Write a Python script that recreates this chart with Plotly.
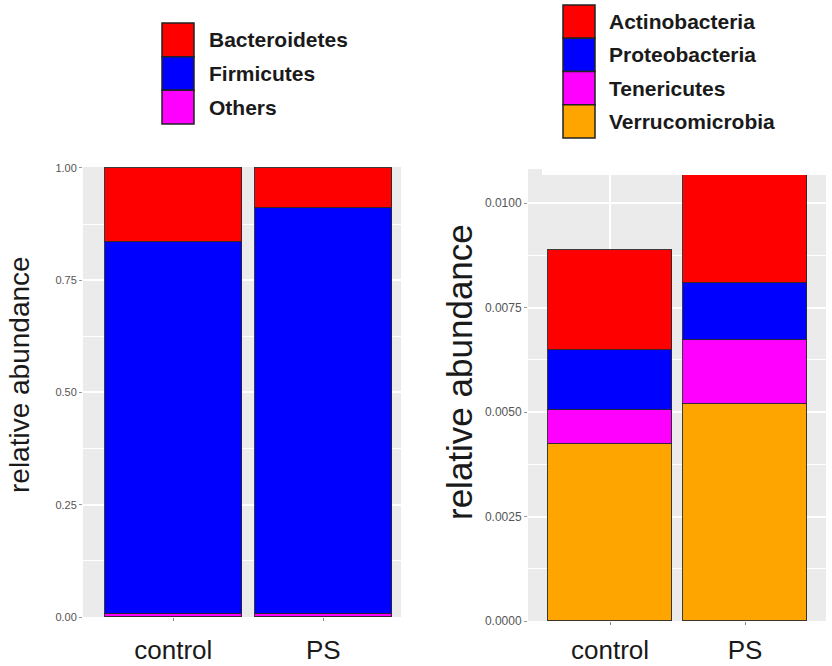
import plotly.graph_objects as go

W, H = 832, 666

groups = ["control", "PS"]
group_pos = [1, 2]

# Left panel (major phyla), stacked bottom -> top
left_phyla = ["Others", "Firmicutes", "Bacteroidetes"]
left_colors = ["#FF00FF", "#0000FF", "#FF0000"]
others = [0.006, 0.006]
firmicutes = [0.829, 0.904]
bacteroidetes = [0.165, 0.090]
left_values = [others, firmicutes, bacteroidetes]

# Right panel (minor phyla), stacked bottom -> top
right_phyla = ["Verrucomicrobia", "Tenericutes", "Proteobacteria", "Actinobacteria"]
right_colors = ["#FFA500", "#FF00FF", "#0000FF", "#FF0000"]
verrucomicrobia = [0.00423, 0.00518]
tenericutes = [0.00082, 0.00154]
proteobacteria = [0.00143, 0.00137]
actinobacteria = [0.00239, 0.00290]
right_values = [verrucomicrobia, tenericutes, proteobacteria, actinobacteria]

left_ticks = [0, 0.25, 0.5, 0.75, 1.0]
right_ticks = [0, 0.0025, 0.005, 0.0075, 0.01]

FONT = "Liberation Sans, Arial, sans-serif"
OUTLINE = dict(color="rgba(40,40,40,0.9)", width=1)

fig = go.Figure()
for name, col, vals in zip(left_phyla, left_colors, left_values):
    fig.add_trace(go.Bar(x=group_pos, y=vals, name=name, marker=dict(color=col, line=OUTLINE),
                         width=0.913, xaxis="x", yaxis="y", showlegend=False))
for name, col, vals in zip(right_phyla, right_colors, right_values):
    fig.add_trace(go.Bar(x=group_pos, y=vals, name=name, marker=dict(color=col, line=OUTLINE),
                         width=0.918, xaxis="x2", yaxis="y2", showlegend=False))

def px(x):
    return x / W

def py(y):
    return 1 - y / H

grid_major = dict(showgrid=True, gridcolor="white", gridwidth=1.5)

def xaxis_common(standoff):
    return dict(tickmode="array", tickvals=group_pos, ticktext=groups, ticks="outside", ticklen=3,
                tickcolor="#888", tickfont=dict(family=FONT, size=26, color="#1a1a1a"),
                ticklabelstandoff=standoff, zeroline=False, showline=False, automargin=False,
                **grid_major)

fig.update_layout(
    template="plotly_white",
    width=W, height=H, margin=dict(l=0, r=0, t=0, b=0, autoexpand=False),
    paper_bgcolor="white", plot_bgcolor="#EBEBEB", barmode="stack", bargap=0,
    xaxis=dict(domain=[px(83), px(401)], range=[0.398, 2.518], anchor="y", **xaxis_common(7)),
    yaxis=dict(domain=[py(617), py(167)], range=[0, 1.0022], anchor="x", automargin=False,
               tickmode="array", tickvals=left_ticks, ticktext=[f"{v:.2f}" for v in left_ticks],
               ticks="outside", ticklen=3, tickcolor="#999",
               tickfont=dict(family=FONT, size=11, color="#555"),
               zeroline=False, showline=False, **grid_major,
               minor=dict(tick0=0.125, dtick=0.25, showgrid=True, gridcolor="white", gridwidth=0.8)),
    xaxis2=dict(domain=[px(528), px(826)], range=[0.3926, 2.6], anchor="y2", **xaxis_common(3)),
    yaxis2=dict(domain=[py(621), py(175)], range=[0, 0.01067], anchor="x2", automargin=False,
                tickmode="array", tickvals=right_ticks, ticktext=[f"{v:.4f}" for v in right_ticks],
                ticks="outside", ticklen=3, tickcolor="#999",
                tickfont=dict(family=FONT, size=12, color="#555"),
                zeroline=False, showline=False, **grid_major,
                minor=dict(tick0=0.00125, dtick=0.0025, showgrid=True, gridcolor="white", gridwidth=0.8)),
)

shapes = []
annotations = []

# small step of the grey panel at the top-left of the right plot
shapes.append(dict(type="rect", xref="paper", yref="paper", x0=px(528), x1=px(542), y0=py(175.5), y1=py(169),
                   fillcolor="#EBEBEB", line=dict(width=0), layer="below"))

# y axis titles
annotations.append(dict(text="relative abundance", xref="paper", yref="paper", x=px(19), y=py(375),
                        textangle=-90, showarrow=False, xanchor="center", yanchor="middle",
                        font=dict(family=FONT, size=28, color="#1a1a1a")))
annotations.append(dict(text="relative abundance", xref="paper", yref="paper", x=px(460), y=py(372),
                        textangle=-90, showarrow=False, xanchor="center", yanchor="middle",
                        font=dict(family=FONT, size=35, color="#1a1a1a")))

# custom legends (top to bottom order)
def legend(names, colors, x0, x1, ytop, ybot, tx):
    n = len(names)
    h = (ybot - ytop) / n
    for i, (nm, c) in enumerate(zip(names, colors)):
        y0 = ytop + i * h
        shapes.append(dict(type="rect", xref="paper", yref="paper", x0=px(x0), x1=px(x1),
                           y0=py(y0 + h), y1=py(y0), fillcolor=c, line=dict(color="#222", width=1.5)))
        annotations.append(dict(text=f"<b>{nm}</b>", xref="paper", yref="paper", x=px(tx), y=py(y0 + h / 2),
                                showarrow=False, xanchor="left", yanchor="middle",
                                font=dict(family=FONT, size=21, color="#1a1a1a")))

legend(left_phyla[::-1], left_colors[::-1], 162, 194, 23, 124, 207)
legend(right_phyla[::-1], right_colors[::-1], 563, 595, 5, 138, 607)

fig.update_layout(shapes=shapes, annotations=annotations)
fig.write_html("out.html", config={"displayModeBar": False},
               post_script="document.body.style.margin='0';document.body.style.overflow='hidden';")
